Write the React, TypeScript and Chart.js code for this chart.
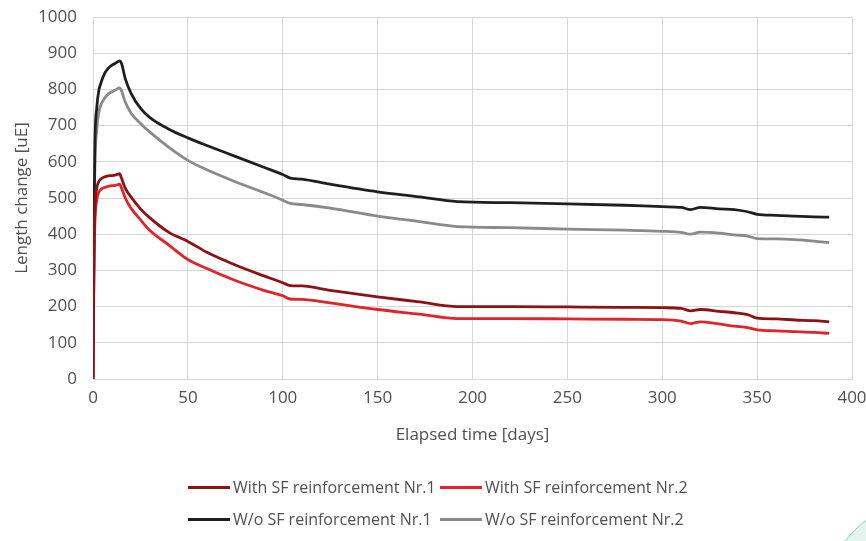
import React, { useEffect, useRef } from "react";
import { Chart, registerables } from "chart.js";

Chart.register(...registerables);

const days = [0, 0.5, 1, 2, 3, 4, 6, 8, 10, 12, 14, 15, 17, 20, 25, 30, 40, 50, 60, 75, 90, 100, 104, 110, 125, 150, 172, 192, 220, 250, 280, 300, 310, 315, 320, 330, 338, 345, 350, 360, 370, 380, 388];

const withSF1 = [0, 330, 470, 527, 545, 552, 558, 561, 562, 564, 567, 555, 527, 503, 470, 445, 405, 380, 350, 315, 285, 266, 258, 257, 245, 227, 213, 200, 200, 199, 198, 197, 195, 188, 192, 187, 183, 178, 168, 166, 163, 161, 158];
const withSF2 = [0, 300, 430, 495, 515, 523, 529, 532, 534, 535, 538, 528, 500, 472, 440, 410, 370, 330, 305, 272, 245, 230, 221, 220, 210, 192, 179, 167, 167, 166, 165, 164, 160, 153, 158, 152, 146, 142, 136, 133, 131, 129, 126];
const withoutSF1 = [0, 420, 650, 750, 795, 815, 843, 858, 867, 873, 879, 872, 830, 790, 748, 722, 690, 666, 645, 615, 585, 565, 555, 552, 538, 517, 503, 490, 487, 484, 480, 476, 474, 468, 474, 470, 468, 462, 455, 452, 450, 448, 447];
const withoutSF2 = [0, 380, 590, 690, 735, 755, 775, 787, 793, 799, 804, 797, 765, 735, 706, 682, 640, 604, 578, 545, 515, 494, 485, 482, 472, 450, 435, 421, 418, 414, 411, 408, 405, 400, 406, 403, 398, 395, 388, 387, 385, 381, 377];

const seriesNames = [
  "With SF reinforcement Nr.1",
  "With SF reinforcement Nr.2",
  "W/o SF reinforcement Nr.1",
  "W/o SF reinforcement Nr.2",
];
const seriesValues = [withSF1, withSF2, withoutSF1, withoutSF2];
const seriesColors = ["#8c1216", "#e3232a", "#1f1f1f", "#8a8a8a"];

const xTitle = "Elapsed time [days]";
const yTitle = "Length change [uE]";

const FONT = "'Open Sans', sans-serif";
const TEXT = "#505050";
const GRID = "#d6d6d6";

export default function App() {
  const ref = useRef<HTMLCanvasElement | null>(null);

  useEffect(() => {
    if (!ref.current) return;
    const chart = new Chart(ref.current, {
      type: "line",
      data: {
        datasets: seriesValues.map((vals, i) => ({
          label: seriesNames[i],
          data: days.map((d, j) => ({ x: d, y: vals[j] })),
          borderColor: seriesColors[i],
          backgroundColor: seriesColors[i],
          borderWidth: 2.8,
          pointRadius: 0,
          cubicInterpolationMode: "monotone",
          fill: false,
        })),
      },
      options: {
        responsive: false,
        animation: false,
        layout: { padding: { left: 0, right: 14, top: 17, bottom: 87 } },
        plugins: {
          legend: { display: false },
          tooltip: { enabled: false },
        },
        scales: {
          x: {
            type: "linear",
            min: 0,
            max: 400,
            ticks: { stepSize: 50, color: TEXT, padding: 9, font: { family: FONT, size: 17 }, callback: (v: any) => String(v) },
            grid: { color: GRID, drawTicks: false, lineWidth: 1 },
            border: { color: GRID },
            title: { display: true, text: xTitle, color: TEXT, font: { family: FONT, size: 17 }, padding: { top: 0, bottom: 9 } },
            afterFit: (s: any) => {
              s.height = 75;
              s.paddingLeft = 0;
              s.paddingRight = 0;
            },
          },
          y: {
            min: 0,
            max: 1000,
            ticks: { stepSize: 100, color: TEXT, padding: 16, font: { family: FONT, size: 17 }, callback: (v: any) => String(v) },
            grid: { color: GRID, drawTicks: false, lineWidth: 1 },
            border: { color: GRID },
            title: { display: true, text: yTitle, color: TEXT, font: { family: FONT, size: 17 }, padding: { top: 12, bottom: 0 } },
            afterFit: (s: any) => {
              s.width = 93;
              s.paddingTop = 0;
              s.paddingBottom = 0;
            },
          },
        },
      },
    });
    return () => chart.destroy();
  }, []);

  const rows = [
    [0, 1],
    [2, 3],
  ];
  const colLeft = [188, 440];

  return (
    <div style={{ position: "fixed", left: 0, top: 0, width: 866, height: 541, overflow: "hidden", background: "#fff" }}>
      <canvas ref={ref} width={866} height={541} style={{ position: "absolute", left: 0, top: 0 }} />
      {rows.map((r, ri) =>
        r.map((i, ci) => (
          <div
            key={i}
            style={{
              position: "absolute",
              left: colLeft[ci],
              top: 471 + ri * 32,
              height: 32,
              display: "flex",
              alignItems: "center",
              fontFamily: FONT,
              fontSize: 16,
              color: TEXT,
            }}
          >
            <span style={{ display: "inline-block", width: 42, height: 3, background: seriesColors[i], marginRight: 3 }} />
            <span style={{ whiteSpace: "nowrap" }}>{seriesNames[i]}</span>
          </div>
        ))
      )}
      <div style={{ position: "absolute", left: 825, top: 500, width: 200, height: 200, borderRadius: "50%", border: "1.5px solid #82d3b9", background: "#e3f5ee" }} />
    </div>
  );
}
